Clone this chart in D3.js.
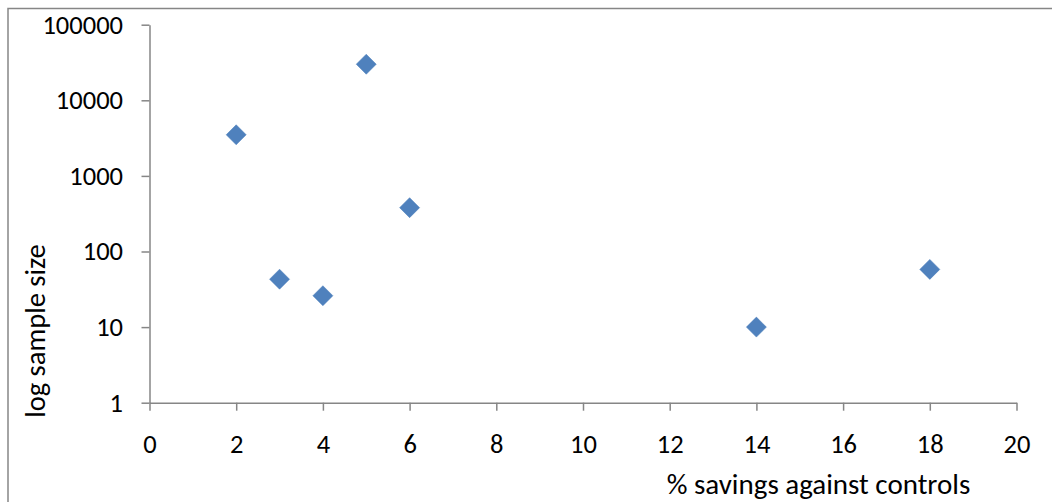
<!DOCTYPE html>
<html>
<head>
<meta charset="utf-8">
<script src="https://cdn.jsdelivr.net/npm/d3@7"></script>
<style>
  html, body { margin: 0; padding: 0; background: #fff; }
  svg text { font-family: Carlito, Calibri, Lato, sans-serif; fill: #000; }
</style>
</head>
<body>
<svg id="chart" width="1052" height="502"></svg>
<script>
// Percentage savings against controls vs. sample size (log scale)
const savings = [2, 3, 4, 5, 6, 14, 18];
const sampleSize = [3500, 43, 26, 30000, 380, 10, 58];
const xTicks = [0, 2, 4, 6, 8, 10, 12, 14, 16, 18, 20];
const yTicks = [1, 10, 100, 1000, 10000, 100000];
const xTitle = "% savings against controls";
const yTitle = "log sample size";

const svg = d3.select("#chart");
const W = 1052, H = 502;
const plotLeft = 149.5, plotRight = 1016.5, plotTop = 24.7, plotBottom = 402.7;

// chart frame
svg.append("rect")
  .attr("x", 8).attr("y", 8.5)
  .attr("width", W + 20).attr("height", H + 20)
  .attr("fill", "none").attr("stroke", "#868686").attr("stroke-width", 1.5);

const x = d3.scaleLinear().domain([0, 20]).range([plotLeft, plotRight]);
const y = d3.scaleLog().domain([1, 100000]).range([plotBottom, plotTop]);

const axisColor = "#868686";

const xAxis = svg.append("g")
  .attr("transform", `translate(0,${plotBottom})`)
  .call(d3.axisBottom(x).tickValues(xTicks).tickFormat(d3.format("d"))
    .tickSizeInner(8).tickSizeOuter(0).tickPadding(23));
const yAxis = svg.append("g")
  .attr("transform", `translate(${plotLeft},0)`)
  .call(d3.axisLeft(y).tickValues(yTicks).tickFormat(d3.format("d"))
    .tickSizeInner(8).tickSizeOuter(0).tickPadding(18.5));

[xAxis, yAxis].forEach(g => {
  g.select(".domain").attr("stroke", axisColor).attr("stroke-width", 1.5);
  g.selectAll(".tick line").attr("stroke", axisColor).attr("stroke-width", 1.5);
  g.selectAll(".tick text").attr("font-size", 26.5)
    .attr("font-family", "Carlito, Calibri, Lato, sans-serif").attr("fill", "#000");
});

// diamond markers
const diamond = d3.symbol().type(d3.symbolSquare).size(200);
svg.append("g").selectAll("path")
  .data(savings.map((s, i) => [s, sampleSize[i]]))
  .join("path")
  .attr("d", diamond)
  .attr("transform", d => `translate(${x(d[0])},${y(d[1])}) rotate(45)`)
  .attr("fill", "#4f81bd")
  .attr("stroke", "#4a7ebb")
  .attr("stroke-width", 0.5);

// axis titles
svg.append("text")
  .attr("x", 818.5).attr("y", 494)
  .attr("text-anchor", "middle")
  .attr("font-size", 29)
  .text(xTitle);
svg.append("text")
  .attr("transform", "translate(45,331) rotate(-90)")
  .attr("text-anchor", "middle")
  .attr("font-size", 28.5)
  .text(yTitle);
</script>
</body>
</html>
